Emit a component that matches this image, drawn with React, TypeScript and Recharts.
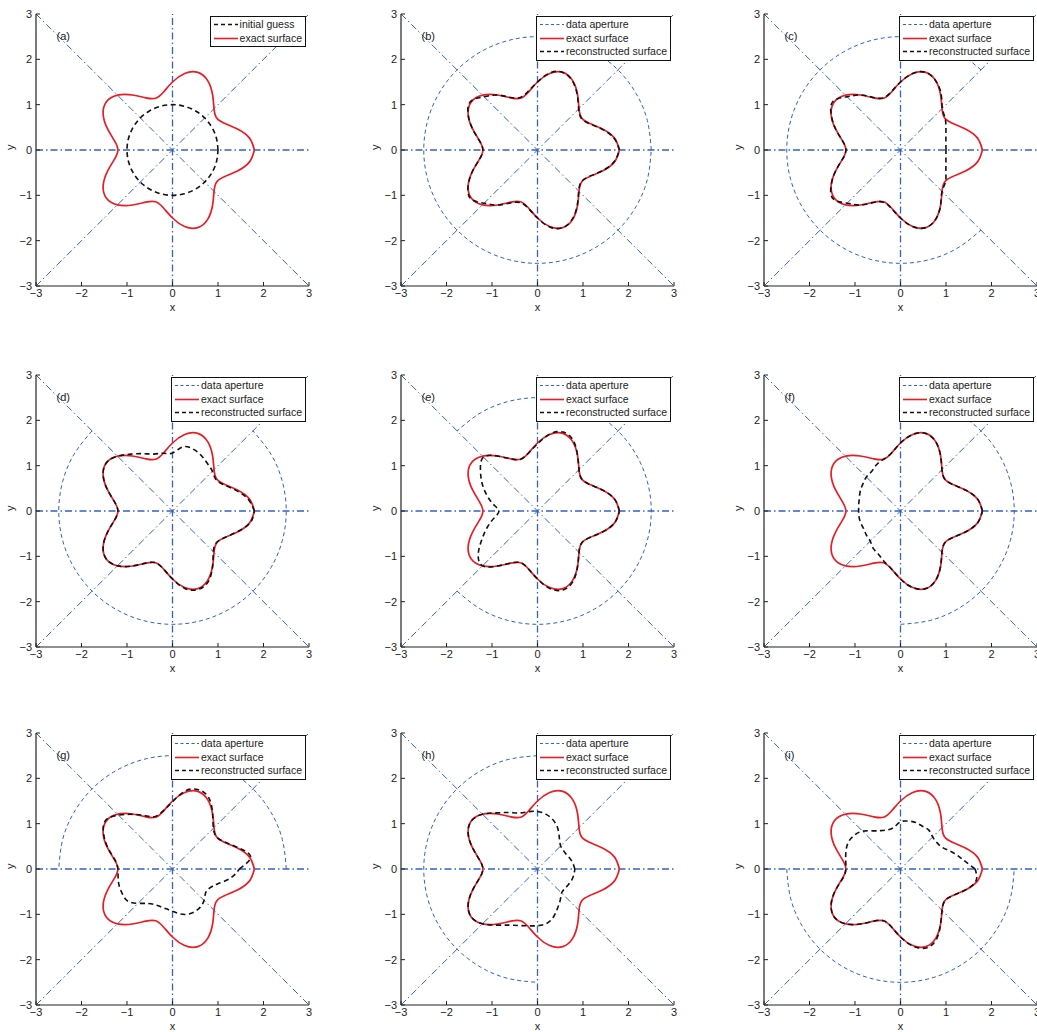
import React from "react"
import { ComposedChart, Line, XAxis, YAxis, ReferenceLine, ReferenceDot, Legend } from "recharts"

// polar sample angles (degrees) for the surfaces
const ANGLES = [
  0, 9, 18, 27, 36, 45, 54, 63, 72, 81, 90, 99, 108, 117, 126, 135, 144, 153, 162, 171, 180,
  189, 198, 207, 216, 225, 234, 243, 252, 261, 270, 279, 288, 297, 306, 315, 324, 333, 342, 351, 360,
]
const CIRCLE_ANGLES = [0, 15, 30, 45, 60, 75, 90, 105, 120, 135, 150, 165, 180, 195, 210, 225, 240, 255, 270, 285, 300, 315, 330, 345, 360]
const INITIAL_GUESS_R = [1, 1, 1, 1, 1, 1, 1, 1, 1, 1, 1, 1, 1, 1, 1, 1, 1, 1, 1, 1, 1, 1, 1, 1, 1]
const APERTURE_R = 2.5
const TICKS = [-3, -2, -1, 0, 1, 2, 3]

const EXACT_R = [
  1.8, 1.71, 1.5, 1.29, 1.2, 1.29, 1.5, 1.71, 1.8, 1.71, 1.5, 1.29, 1.2, 1.29, 1.5, 1.71, 1.8, 1.71, 1.5, 1.29, 1.2,
  1.29, 1.5, 1.71, 1.8, 1.71, 1.5, 1.29, 1.2, 1.29, 1.5, 1.71, 1.8, 1.71, 1.5, 1.29, 1.2, 1.29, 1.5, 1.71, 1.8,
]

// reconstructed surface radii, panels (b) .. (i)
const RECON_B = [
  1.8, 1.7, 1.49, 1.28, 1.19, 1.28, 1.49, 1.7, 1.8, 1.72, 1.5, 1.31, 1.22, 1.3, 1.5, 1.66, 1.82, 1.71, 1.5, 1.29, 1.2,
  1.29, 1.5, 1.71, 1.82, 1.66, 1.5, 1.31, 1.22, 1.3, 1.5, 1.72, 1.8, 1.7, 1.49, 1.28, 1.19, 1.28, 1.49, 1.7, 1.8,
]
const RECON_C = [
  1.0, 1.01, 1.05, 1.12, 1.21, 1.3, 1.52, 1.71, 1.8, 1.71, 1.5, 1.3, 1.21, 1.3, 1.5, 1.66, 1.83, 1.71, 1.5, 1.29, 1.2,
  1.29, 1.5, 1.71, 1.83, 1.66, 1.5, 1.3, 1.21, 1.3, 1.5, 1.71, 1.8, 1.71, 1.5, 1.29, 1.22, 1.12, 1.05, 1.01, 1.0,
]
const RECON_D = [
  1.8, 1.68, 1.47, 1.27, 1.18, 1.24, 1.3, 1.38, 1.44, 1.43, 1.28, 1.29, 1.32, 1.42, 1.55, 1.71, 1.8, 1.71, 1.5, 1.29, 1.2,
  1.29, 1.5, 1.71, 1.8, 1.71, 1.5, 1.29, 1.2, 1.29, 1.5, 1.73, 1.82, 1.74, 1.5, 1.27, 1.19, 1.29, 1.49, 1.72, 1.8,
]
const RECON_E = [
  1.8, 1.71, 1.5, 1.29, 1.2, 1.29, 1.5, 1.74, 1.83, 1.72, 1.48, 1.29, 1.2, 1.29, 1.5, 1.68, 1.55, 1.37, 1.18, 0.99, 0.85,
  0.96, 1.16, 1.37, 1.61, 1.71, 1.5, 1.29, 1.2, 1.29, 1.5, 1.73, 1.83, 1.73, 1.5, 1.29, 1.2, 1.29, 1.5, 1.71, 1.8,
]
const RECON_F = [
  1.8, 1.71, 1.5, 1.29, 1.2, 1.29, 1.5, 1.71, 1.8, 1.71, 1.5, 1.29, 1.2, 1.15, 1.08, 1.06, 1.02, 0.99, 0.95, 0.93, 0.92,
  0.92, 0.91, 0.9, 0.92, 0.94, 1.02, 1.07, 1.17, 1.29, 1.5, 1.71, 1.8, 1.71, 1.5, 1.29, 1.2, 1.29, 1.5, 1.71, 1.8,
]
const RECON_G = [
  1.47, 1.74, 1.52, 1.3, 1.2, 1.27, 1.5, 1.76, 1.84, 1.74, 1.48, 1.3, 1.22, 1.32, 1.49, 1.68, 1.82, 1.7, 1.49, 1.28, 1.2,
  1.21, 1.23, 1.23, 1.21, 1.07, 0.94, 0.88, 0.87, 0.89, 0.93, 1.0, 1.05, 1.06, 1.04, 0.98, 0.9, 0.92, 1.05, 1.29, 1.47,
]
const RECON_H = [
  0.82, 0.79, 0.75, 0.71, 0.7, 0.72, 0.82, 0.99, 1.13, 1.22, 1.27, 1.28, 1.3, 1.4, 1.53, 1.71, 1.8, 1.71, 1.5, 1.29, 1.2,
  1.29, 1.5, 1.71, 1.8, 1.71, 1.53, 1.39, 1.31, 1.27, 1.25, 1.22, 1.12, 0.97, 0.85, 0.75, 0.74, 0.76, 0.79, 0.81, 0.82,
]
const RECON_I = [
  1.64, 1.38, 1.2, 1.04, 0.99, 1.0, 1.06, 1.06, 1.08, 1.07, 1.04, 0.93, 0.91, 0.95, 1.04, 1.18, 1.26, 1.29, 1.26, 1.22, 1.2,
  1.28, 1.5, 1.71, 1.8, 1.71, 1.5, 1.29, 1.2, 1.29, 1.5, 1.72, 1.83, 1.74, 1.5, 1.29, 1.2, 1.29, 1.5, 1.68, 1.64,
]

const PANEL_LABELS = ["(a)", "(b)", "(c)", "(d)", "(e)", "(f)", "(g)", "(h)", "(i)"]
const RECONSTRUCTED = [null, RECON_B, RECON_C, RECON_D, RECON_E, RECON_F, RECON_G, RECON_H, RECON_I]
// data aperture arc (degrees), null = no aperture drawn
const APERTURE_FROM = [null, 0, 45, -225, -135, -90, 0, 90, 180]
const APERTURE_TO = [null, 360, 315, 45, 135, 90, 180, 270, 360]

const BLUE = "#3461c2"
const RED = "#ea1c24"
const BLACK = "#111111"
const AXIS = "#222222"
const FONT = "'Liberation Sans', Arial, sans-serif"

const COL_LEFT = [0, 365, 728]
const ROW_TOP = [4, 365, 723]

const toXY = (angles: number[], radii: number[]) =>
  angles.map((a, i) => {
    const t = (a * Math.PI) / 180
    return { x: radii[i] * Math.cos(t), y: radii[i] * Math.sin(t) }
  })

const arcAngles = (from: number, to: number) => {
  const out: number[] = []
  for (let a = from; a <= to; a += 15) out.push(a)
  return out
}

const fmt = (v: number) => (v < 0 ? "\u2212" + Math.abs(v) : String(v))

type LegendRow = { label: string; color: string; dash?: string; width: number }

const LEGEND_A: LegendRow[] = [
  { label: "initial guess", color: BLACK, dash: "4 3", width: 1.6 },
  { label: "exact surface", color: RED, width: 1.6 },
]
const LEGEND_REST: LegendRow[] = [
  { label: "data aperture", color: BLUE, dash: "3 2.5", width: 1 },
  { label: "exact surface", color: RED, width: 1.6 },
  { label: "reconstructed surface", color: BLACK, dash: "4 3", width: 1.6 },
]

function LegendBox({ rows }: { rows: LegendRow[] }) {
  return (
    <div
      style={{
        background: "#fff",
        border: "1px solid #111",
        padding: "1px 3px 1px 1px",
        fontFamily: FONT,
        fontSize: 10.5,
        lineHeight: "13.5px",
        color: AXIS,
      }}
    >
      {rows.map((r) => (
        <div key={r.label} style={{ display: "flex", alignItems: "center", whiteSpace: "nowrap" }}>
          <svg width={27} height={13} style={{ display: "block" }}>
            <line x1={2} x2={26} y1={6.5} y2={6.5} stroke={r.color} strokeWidth={r.width} strokeDasharray={r.dash} />
          </svg>
          <span style={{ marginLeft: 1 }}>{r.label}</span>
        </div>
      ))}
    </div>
  )
}

function Panel({ idx }: { idx: number }) {
  const exact = toXY(ANGLES, EXACT_R)
  const recon = RECONSTRUCTED[idx]
  const reconPts = recon ? toXY(ANGLES, recon) : toXY(CIRCLE_ANGLES, INITIAL_GUESS_R)
  const from = APERTURE_FROM[idx]
  const to = APERTURE_TO[idx]
  const apAngles = from === null || to === null ? [] : arcAngles(from, to)
  const aperture = toXY(apAngles, apAngles.map(() => APERTURE_R))
  const legendRows = idx === 0 ? LEGEND_A : LEGEND_REST
  const dashDot = "7 3 1.5 3"

  return (
    <div style={{ position: "absolute", left: COL_LEFT[idx % 3], top: ROW_TOP[Math.floor(idx / 3)] }}>
      <ComposedChart width={319} height={312} margin={{ top: 10, right: 10, bottom: 0, left: 0 }}>
        <XAxis
          type="number"
          dataKey="x"
          domain={[-3, 3]}
          ticks={TICKS}
          allowDataOverflow
          height={30}
          tickSize={-4}
          tickMargin={7}
          axisLine={{ stroke: AXIS, strokeWidth: 1.2 }}
          tickLine={{ stroke: AXIS }}
          tick={{ fill: AXIS, fontSize: 11 }}
          tickFormatter={fmt}
          label={{ value: "x", position: "insideBottom", offset: 5, fill: AXIS, fontSize: 11 }}
        />
        <YAxis
          type="number"
          dataKey="y"
          domain={[-3, 3]}
          ticks={TICKS}
          allowDataOverflow
          width={36}
          tickSize={-4}
          tickMargin={8}
          axisLine={{ stroke: AXIS, strokeWidth: 1.2 }}
          tickLine={{ stroke: AXIS }}
          tick={{ fill: AXIS, fontSize: 11 }}
          tickFormatter={fmt}
          label={{ value: "y", angle: -90, position: "insideLeft", offset: 10, fill: AXIS, fontSize: 11 }}
        />
        <XAxis
          xAxisId="top"
          orientation="top"
          type="number"
          domain={[-3, 3]}
          ticks={TICKS}
          allowDataOverflow
          height={0}
          tickSize={-4}
          tick={false}
          axisLine={{ stroke: AXIS, strokeWidth: 1.2 }}
          tickLine={{ stroke: AXIS }}
        />
        <YAxis
          yAxisId="right"
          orientation="right"
          type="number"
          domain={[-3, 3]}
          ticks={TICKS}
          allowDataOverflow
          width={0}
          tickSize={-4}
          tick={false}
          axisLine={{ stroke: AXIS, strokeWidth: 1.2 }}
          tickLine={{ stroke: AXIS }}
        />

        <ReferenceLine x={0} stroke={BLUE} strokeWidth={1.3} strokeDasharray={dashDot} />
        <ReferenceLine y={0} stroke={BLUE} strokeWidth={1.3} strokeDasharray={dashDot} />
        <ReferenceLine segment={[{ x: -3, y: -3 }, { x: 3, y: 3 }]} stroke={BLUE} strokeWidth={1} strokeDasharray={dashDot} />
        <ReferenceLine segment={[{ x: -3, y: 3 }, { x: 3, y: -3 }]} stroke={BLUE} strokeWidth={1} strokeDasharray={dashDot} />

        {aperture.length > 0 && (
          <Line
            data={aperture}
            dataKey="y"
            type="natural"
            stroke={BLUE}
            strokeWidth={1}
            strokeDasharray="4 3"
            dot={false}
            activeDot={false}
            isAnimationActive={false}
          />
        )}
        <Line
          data={exact}
          dataKey="y"
          type="natural"
          stroke={RED}
          strokeWidth={1.7}
          dot={false}
          activeDot={false}
          isAnimationActive={false}
        />
        <Line
          data={reconPts}
          dataKey="y"
          type="natural"
          stroke={BLACK}
          strokeWidth={1.6}
          strokeDasharray="5 3.5"
          dot={false}
          activeDot={false}
          isAnimationActive={false}
        />

        <ReferenceDot
          x={-2.57}
          y={2.52}
          r={1}
          fill="none"
          stroke="none"
          label={{ value: PANEL_LABELS[idx], position: "right", offset: 0, fill: AXIS, fontSize: 11 }}
        />

        <Legend
          layout="vertical"
          align="center"
          verticalAlign="middle"
          wrapperStyle={{ top: 12, right: 13, left: "auto", width: "auto" }}
          content={() => <LegendBox rows={legendRows} />}
        />
      </ComposedChart>
    </div>
  )
}

export default function App() {
  return (
    <div
      style={{
        position: "absolute",
        left: 0,
        top: 0,
        width: 1037,
        height: 1032,
        overflow: "hidden",
        background: "#fff",
        fontFamily: FONT,
      }}
    >
      {[0, 1, 2, 3, 4, 5, 6, 7, 8].map((i) => (
        <Panel key={i} idx={i} />
      ))}
    </div>
  )
}
